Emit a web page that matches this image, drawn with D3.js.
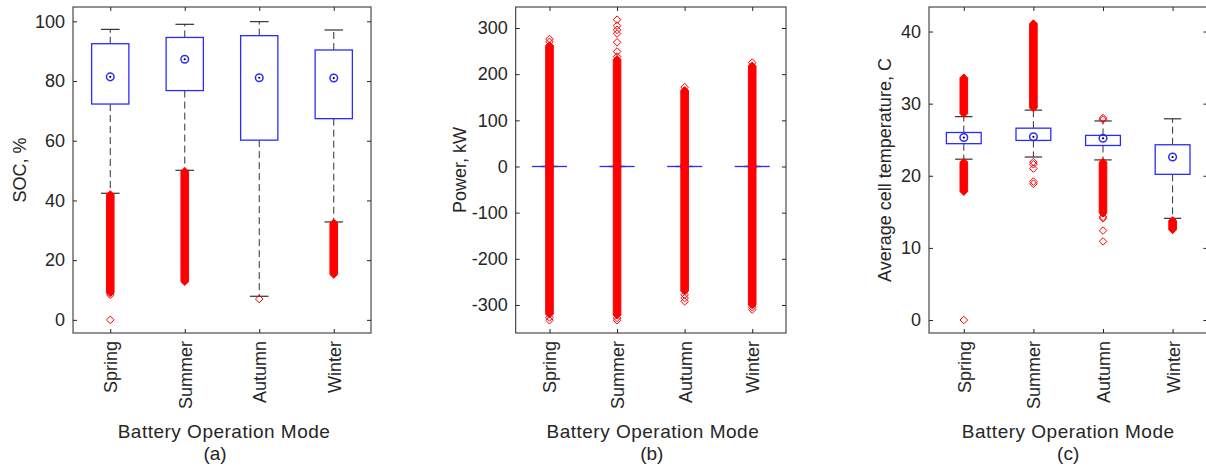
<!DOCTYPE html>
<html>
<head>
<meta charset="utf-8">
<script src="https://cdn.jsdelivr.net/npm/d3@7"></script>
<style>
  body { margin: 0; background: #fff; }
  text { font-family: "Liberation Sans", Arial, sans-serif; fill: #262626; }
</style>
</head>
<body>
<svg id="chart" width="1206" height="468"></svg>
<script>
const seasons = ['Spring', 'Summer', 'Autumn', 'Winter'];

// (a) state of charge, %
const socTicks = [0, 20, 40, 60, 80, 100];
const socQ1 = [72.3, 76.8, 60.2, 67.4];
const socMedian = [81.4, 87.3, 81.1, 81.0];
const socQ3 = [92.5, 94.6, 95.2, 90.4];
const socWhiskerLo = [42.4, 50.1, 7.9, 32.8];
const socWhiskerHi = [97.3, 99.0, 99.9, 97.1];
// runs of outliers so dense they merge into one band: [season index, low, high]
const socDense = [[0, 9.0, 42.0], [1, 12.8, 49.8], [3, 15.2, 32.5]];
const socOutliers = [[0, 0], [0, 8.4], [2, 7.0]];

// (b) power, kW
const powTicks = [-300, -200, -100, 0, 100, 200, 300];
const powQ1 = [0, 0, 0, 0];
const powMedian = [0, 0, 0, 0];
const powQ3 = [0, 0, 0, 0];
const powWhiskerLo = [0, 0, 0, 0];
const powWhiskerHi = [0, 0, 0, 0];
const powDense = [[0, -320, 262], [1, -322, 232], [2, -270, 165], [3, -300, 218]];
const powOutliers = [
  [0, 270], [0, 276], [0, -327], [0, -333],
  [1, 238], [1, 249], [1, 269], [1, 288], [1, 296], [1, 305], [1, 318], [1, -328], [1, -333],
  [2, 172], [2, -278], [2, -285], [2, -292],
  [3, 225], [3, -305], [3, -310]
];

// (c) average cell temperature, C
const tempTicks = [0, 10, 20, 30, 40];
const tempQ1 = [24.45, 24.9, 24.2, 20.2];
const tempMedian = [25.3, 25.4, 25.2, 22.6];
const tempQ3 = [26.0, 26.6, 25.6, 24.3];
const tempWhiskerLo = [22.3, 22.6, 22.2, 14.1];
const tempWhiskerHi = [28.2, 29.1, 27.6, 27.9];
const tempDense = [[0, 28.6, 33.6], [0, 17.8, 21.9], [1, 29.4, 41.1], [2, 14.8, 21.9], [3, 12.5, 13.8]];
const tempOutliers = [
  [0, 0], [0, 20.8],
  [1, 21.9], [1, 21.6], [1, 21.0], [1, 19.2], [1, 18.9],
  [2, 27.8], [2, 28.0], [2, 15.3], [2, 14.3], [2, 14.1], [2, 12.4], [2, 10.9]
];

const svg = d3.select('#chart');
const plotTop = 7, plotBottom = 333;
const boxColor = '#2b2bff';
const red = '#ff0000';

function drawPanel(p) {
  const g = svg.append('g');
  const x = d3.scaleLinear().domain([0.5, 4.5]).range([p.left, p.right]);
  const y = d3.scaleLinear().domain(p.yDomain).range([plotBottom, plotTop]);
  const unit = x(2) - x(1);

  // axes, ticks pointing inwards
  g.append('g').attr('transform', `translate(${p.left},0)`)
    .call(d3.axisLeft(y).tickValues(p.ticks).tickSize(-4).tickPadding(8).tickFormat(d => String(d)))
    .call(a => a.selectAll('text').style('font-size', '18px').attr('fill', '#262626'));
  g.append('g').attr('transform', `translate(${p.right},0)`)
    .call(d3.axisRight(y).tickValues(p.ticks).tickSize(-4).tickFormat(''));
  g.append('g').attr('transform', `translate(0,${plotTop})`)
    .call(d3.axisTop(x).tickValues([1, 2, 3, 4]).tickSize(-4).tickFormat(''));
  g.append('g').attr('transform', `translate(0,${plotBottom})`)
    .call(d3.axisBottom(x).tickValues([1, 2, 3, 4]).tickSize(-4).tickFormat((d, i) => seasons[i]))
    .call(a => a.selectAll('text')
      .style('font-size', '18px').attr('fill', '#262626')
      .attr('transform', 'rotate(-90)')
      .attr('x', -8).attr('y', 0).attr('dy', '0.36em')
      .style('text-anchor', 'end'));
  g.selectAll('.domain').remove();
  g.selectAll('.tick line').attr('stroke', '#262626');
  g.append('rect')
    .attr('x', p.left).attr('y', plotTop)
    .attr('width', p.right - p.left).attr('height', plotBottom - plotTop)
    .attr('fill', 'none').attr('stroke', '#262626').attr('stroke-width', 1);

  const idx = [0, 1, 2, 3];

  // whiskers
  g.append('g').selectAll('line').data(idx).join('line')
    .attr('x1', i => x(i + 1)).attr('x2', i => x(i + 1))
    .attr('y1', i => y(p.q1[i])).attr('y2', i => y(p.wlo[i]))
    .attr('stroke', '#333').attr('stroke-dasharray', '7,4');
  g.append('g').selectAll('line').data(idx).join('line')
    .attr('x1', i => x(i + 1)).attr('x2', i => x(i + 1))
    .attr('y1', i => y(p.q3[i])).attr('y2', i => y(p.whi[i]))
    .attr('stroke', '#333').attr('stroke-dasharray', '7,4');
  // whisker caps
  [p.wlo, p.whi].forEach(w => {
    g.append('g').selectAll('line').data(idx).join('line')
      .attr('x1', i => x(i + 1) - unit * 0.125).attr('x2', i => x(i + 1) + unit * 0.125)
      .attr('y1', i => y(w[i])).attr('y2', i => y(w[i]))
      .attr('stroke', '#333').attr('stroke-width', 1.2);
  });

  // boxes
  g.append('g').selectAll('rect').data(idx).join('rect')
    .attr('x', i => x(i + 0.75)).attr('width', unit * 0.5)
    .attr('y', i => y(p.q3[i])).attr('height', i => Math.max(0.01, y(p.q1[i]) - y(p.q3[i])))
    .attr('fill', 'none').attr('stroke', boxColor).attr('stroke-width', 1.3);

  // median target markers
  g.append('g').selectAll('circle').data(idx).join('circle')
    .attr('cx', i => x(i + 1)).attr('cy', i => y(p.median[i])).attr('r', 3.8)
    .attr('fill', 'none').attr('stroke', boxColor).attr('stroke-width', 1.5);
  g.append('g').selectAll('circle').data(idx).join('circle')
    .attr('cx', i => x(i + 1)).attr('cy', i => y(p.median[i])).attr('r', 1.1)
    .attr('fill', '#000');

  // dense outlier bands (overlapping diamonds)
  const h = 3.8;
  g.append('g').selectAll('path').data(p.dense).join('path')
    .attr('d', d => {
      const cx = x(d[0] + 1), yt = y(d[2]), yb = y(d[1]);
      return `M${cx},${yt - h}L${cx + h},${yt}L${cx + h},${yb}L${cx},${yb + h}L${cx - h},${yb}L${cx - h},${yt}Z`;
    })
    .attr('fill', red).attr('stroke', red).attr('stroke-width', 1);

  // single outliers
  g.append('g').selectAll('path').data(p.outliers).join('path')
    .attr('d', d => {
      const cx = x(d[0] + 1), cy = y(d[1]);
      return `M${cx},${cy - h}L${cx + h},${cy}L${cx},${cy + h}L${cx - h},${cy}Z`;
    })
    .attr('fill', 'none').attr('stroke', red).attr('stroke-width', 1);

  // labels
  svg.append('text')
    .attr('transform', `translate(${p.ylabelX},${(plotTop + plotBottom) / 2}) rotate(-90)`)
    .attr('text-anchor', 'middle').style('font-size', '18px')
    .text(p.ylabel);
  svg.append('text')
    .attr('x', (p.left + p.right) / 2 + p.xlabelShift).attr('y', 437.5)
    .attr('text-anchor', 'middle').style('font-size', '19px').style('letter-spacing', '0.5px')
    .text('Battery Operation Mode');
  svg.append('text')
    .attr('x', (p.left + p.right) / 2 + p.captionShift).attr('y', 460)
    .attr('text-anchor', 'middle').style('font-size', '19px')
    .text(p.caption);
}

drawPanel({
  left: 73, right: 371, yDomain: [-4.4, 104.8], ticks: socTicks,
  q1: socQ1, median: socMedian, q3: socQ3, wlo: socWhiskerLo, whi: socWhiskerHi,
  dense: socDense, outliers: socOutliers,
  ylabel: 'SOC, %', ylabelX: 25.5, caption: '(a)', xlabelShift: 2, captionShift: -7
});
drawPanel({
  left: 515.7, right: 786, yDomain: [-360.7, 345.5], ticks: powTicks,
  q1: powQ1, median: powMedian, q3: powQ3, wlo: powWhiskerLo, whi: powWhiskerHi,
  dense: powDense, outliers: powOutliers,
  ylabel: 'Power, kW', ylabelX: 466, caption: '(b)', xlabelShift: 2, captionShift: 1
});
drawPanel({
  left: 929, right: 1207.4, yDomain: [-1.8, 43.4], ticks: tempTicks,
  q1: tempQ1, median: tempMedian, q3: tempQ3, wlo: tempWhiskerLo, whi: tempWhiskerHi,
  dense: tempDense, outliers: tempOutliers,
  ylabel: 'Average cell temperature, C', ylabelX: 891, caption: '(c)', xlabelShift: 0, captionShift: 0
});
</script>
</body>
</html>
